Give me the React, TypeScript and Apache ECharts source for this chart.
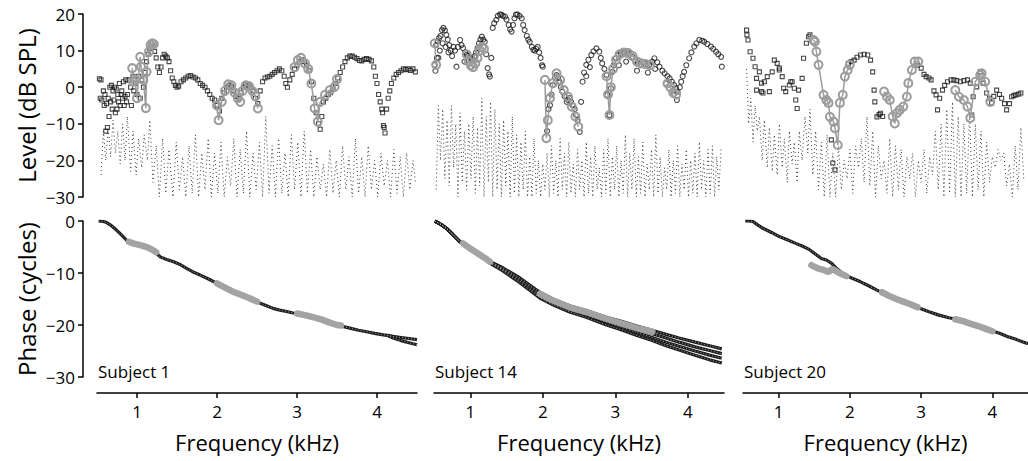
import React, { useEffect, useRef } from "react";
import * as echarts from "echarts";

// ---------- tick labels ----------
const xTickValues = [1, 2, 3, 4];
const subjects = ["Subject 1", "Subject 14", "Subject 20"];

// ---------- Subject 1 : level (dB SPL) ----------
const s1Level: number[][] = [
  [0.53, 2.3], [0.54, -3], [0.55, 2], [0.56, -3.5], [0.58, -1], [0.59, -5], [0.6, -2], [0.61, -12], [0.62, -4.5],
  [0.63, -11], [0.64, -3], [0.65, -8], [0.66, 0], [0.67, -4], [0.68, 0.5], [0.69, -6], [0.7, -1], [0.71, -3.5],
  [0.72, 0], [0.73, -7], [0.74, -0.5], [0.75, -6], [0.76, -2], [0.77, -4], [0.78, 1], [0.79, -5], [0.8, -2],
  [0.81, -1], [0.82, -3], [0.83, 1.5], [0.84, -5], [0.85, -2.5], [0.86, 2], [0.87, -4], [0.88, -2], [0.9, 2],
  [0.92, 0], [0.93, -5], [0.95, 3], [0.96, -1], [0.98, 1], [1.0, -2], [1.02, 3], [1.04, -3], [1.06, 2], [1.08, 0],
  [1.1, 4], [1.12, 7], [1.14, 9], [1.16, 10.5], [1.18, 11], [1.22, 9.8], [1.24, 8], [1.26, 5.5], [1.28, 4],
  [1.3, 5.5], [1.32, 8], [1.34, 9], [1.36, 8.5], [1.38, 8], [1.4, 7], [1.42, 4.5], [1.44, 2.5], [1.46, 1.5],
  [1.48, 0.5], [1.5, 0], [1.52, 0.3], [1.55, 1.5], [1.58, 2], [1.61, 2.5], [1.64, 3], [1.67, 3.2], [1.7, 2.8],
  [1.73, 2.5], [1.76, 2], [1.79, 1], [1.82, 0.5], [1.85, 0], [1.88, -1], [1.91, -2], [1.94, -3], [1.97, -3.5],
  [2.0, -5], [2.03, -6.5], [2.06, -3], [2.09, -1.5], [2.12, 0], [2.15, 0.5], [2.18, 0.2], [2.21, -1], [2.24, -2.5],
  [2.27, -3], [2.3, -1.5], [2.33, 0], [2.36, 0.8], [2.39, 0.5], [2.42, 0], [2.45, -1], [2.48, -3], [2.51, -4.5],
  [2.54, -1], [2.57, 1.5], [2.6, 2.5], [2.63, 2.8], [2.66, 3], [2.69, 3.5], [2.72, 4], [2.75, 4.5], [2.78, 5],
  [2.81, 4.5], [2.84, 3], [2.86, 1], [2.88, 0], [2.91, 2], [2.94, 3.5], [2.97, 5], [3.0, 6], [3.03, 7], [3.06, 7.5],
  [3.09, 7], [3.12, 6], [3.15, 4.5], [3.18, 1.5], [3.21, -3], [3.24, -7], [3.27, -10], [3.29, -11.5], [3.31, -8],
  [3.33, -4], [3.36, -3], [3.39, -2], [3.42, -1.5], [3.45, -0.5], [3.48, 1], [3.51, 2.5], [3.54, 4], [3.57, 5.5],
  [3.6, 7], [3.63, 8], [3.66, 8.5], [3.69, 8.5], [3.72, 8.2], [3.75, 7.8], [3.78, 7.3], [3.81, 7.2], [3.84, 7.6],
  [3.87, 7.8], [3.9, 7.6], [3.93, 7.2], [3.96, 5.5], [3.98, 3], [4.0, 1], [4.02, -2], [4.04, -4], [4.06, -6],
  [4.07, -7], [4.08, -10.5], [4.09, -11], [4.1, -12.5], [4.12, -6], [4.14, -3], [4.16, -1], [4.18, 1], [4.21, 2.5],
  [4.24, 3.5], [4.27, 4], [4.3, 4.5], [4.33, 5], [4.36, 4.8], [4.39, 5], [4.42, 4.6], [4.45, 5], [4.48, 4.2],
];
const s1GrayA: number[][] = [
  [0.94, 5.2], [0.95, 1.5], [0.975, 2], [1.0, -3], [1.04, 8.3], [1.05, 5.6], [1.08, 2], [1.11, -5.7],
  [1.12, 4.2], [1.15, 9.7], [1.17, 11.5], [1.19, 12], [1.21, 11.8],
];
const s1GrayB: number[][] = [
  [2.0, -5], [2.02, -9], [2.06, -4], [2.1, -1], [2.14, 0.8], [2.18, 0.5], [2.22, -1.5], [2.26, -3], [2.29, -4],
  [2.32, -1], [2.36, 0.5], [2.4, 0.3], [2.44, -1], [2.48, -2.5], [2.51, -5.8],
];
const s1GrayC: number[][] = [
  [2.97, 5.5], [3.01, 7.4], [3.05, 8], [3.1, 6.5], [3.14, 5], [3.18, 1], [3.22, -5.8], [3.26, -9.4], [3.29, -4],
  [3.35, -2.1], [3.41, -0.8], [3.47, 0.1], [3.5, 2.2],
];
const s1Noise: number[][] = [
  [0.55, -24], [0.58, -12], [0.61, -20], [0.64, -11], [0.67, -19], [0.7, -9], [0.73, -18], [0.76, -12], [0.79, -21],
  [0.82, -10], [0.85, -20], [0.88, -8], [0.92, -23], [0.95, -12], [0.99, -24], [1.02, -14], [1.06, -22], [1.09, -13],
  [1.13, -20], [1.16, -9], [1.2, -26], [1.24, -16], [1.28, -30], [1.32, -14], [1.36, -29], [1.4, -17], [1.45, -30],
  [1.49, -15], [1.53, -28], [1.57, -19], [1.61, -30], [1.65, -16], [1.69, -29], [1.73, -13], [1.77, -30], [1.81, -18],
  [1.85, -28], [1.89, -14], [1.93, -30], [1.97, -18], [2.01, -29], [2.05, -15], [2.09, -30], [2.13, -19], [2.17, -27],
  [2.21, -14], [2.25, -30], [2.29, -17], [2.33, -29], [2.37, -12], [2.41, -30], [2.45, -18], [2.49, -28], [2.53, -15],
  [2.57, -30], [2.61, -8], [2.65, -29], [2.69, -16], [2.73, -30], [2.77, -14], [2.81, -29], [2.85, -18], [2.89, -30],
  [2.93, -13], [2.97, -28], [3.01, -15], [3.05, -30], [3.09, -12], [3.13, -29], [3.17, -17], [3.21, -30], [3.25, -19],
  [3.29, -28], [3.33, -21], [3.37, -30], [3.41, -17], [3.45, -29], [3.49, -20], [3.53, -30], [3.57, -16], [3.61, -28],
  [3.65, -19], [3.69, -30], [3.73, -14], [3.77, -29], [3.81, -19], [3.85, -30], [3.89, -16], [3.93, -28], [3.97, -20],
  [4.01, -30], [4.05, -18], [4.09, -27], [4.13, -20], [4.17, -30], [4.21, -17], [4.25, -29], [4.29, -19], [4.33, -30],
  [4.37, -18], [4.41, -28], [4.45, -20], [4.48, -26],
];

// ---------- Subject 14 : level ----------
const s14Level: number[][] = [
  [0.51, 6.1], [0.52, 4.5], [0.53, 11.5], [0.55, 12.5], [0.56, 8], [0.57, 13.4], [0.59, 14], [0.61, 15.6], [0.63, 16.2],
  [0.65, 15.5], [0.67, 14.3], [0.69, 13], [0.71, 11.5], [0.73, 10], [0.75, 8.5], [0.77, 11], [0.79, 10], [0.81, 5.6],
  [0.83, 11], [0.86, 12.9], [0.88, 11.5], [0.9, 10.7], [0.93, 9.5], [0.95, 8.8], [0.97, 8.5], [1.0, 8], [1.02, 7.4],
  [1.04, 7.4], [1.06, 8.5], [1.08, 9.5], [1.1, 10.7], [1.12, 12], [1.14, 13], [1.16, 13.8], [1.18, 13], [1.2, 12.4],
  [1.22, 9], [1.24, 5.2], [1.26, 3.5], [1.27, 2.9], [1.29, 8], [1.31, 16.2], [1.33, 17.5], [1.36, 18.4], [1.38, 19.5],
  [1.41, 19.9], [1.43, 19.8], [1.45, 19.5], [1.48, 19.3], [1.5, 18.5], [1.53, 17], [1.55, 15.8], [1.57, 15.2],
  [1.59, 17], [1.61, 18.8], [1.63, 19.8], [1.65, 19.9], [1.68, 19.5], [1.71, 18.8], [1.73, 17], [1.75, 15.6], [1.78, 14],
  [1.8, 13], [1.82, 12.4], [1.85, 11], [1.87, 10.2], [1.89, 10], [1.91, 10.5], [1.93, 11], [1.95, 9.5], [1.97, 8],
  [1.99, 6], [2.0, 5.6], [2.06, -12], [2.08, -6], [2.1, -4.9], [2.12, -2], [2.14, 0.6], [2.17, 2.5], [2.19, 3.3],
  [2.21, 2.5], [2.23, 1.5], [2.25, 0], [2.27, -1.2], [2.3, -2.5], [2.33, -4], [2.35, -3.5], [2.37, -3], [2.39, -4],
  [2.41, -4.9], [2.44, -6], [2.46, -7.6], [2.48, -9], [2.51, -12.2], [2.53, -4], [2.55, 1.5], [2.57, 4], [2.6, 6.1],
  [2.63, 7.5], [2.67, 8.8], [2.7, 9.8], [2.74, 10.6], [2.78, 9.7], [2.8, 8], [2.82, 6.5], [2.85, 5], [2.88, 3.3],
  [2.89, -2.1], [2.92, -7.6], [2.94, -0.3], [2.96, 4.2], [2.98, 6], [3.01, 7.9], [3.04, 8.7], [3.08, 9.3], [3.12, 9.5],
  [3.17, 9.7], [3.2, 9], [3.24, 8.3], [3.28, 7.3], [3.31, 6.5], [3.35, 6.3], [3.4, 6.5], [3.44, 6.3], [3.47, 6.1],
  [3.51, 7], [3.54, 7.9], [3.58, 6.8], [3.61, 5.6], [3.65, 4.5], [3.68, 3.8], [3.72, 3], [3.75, 2.4], [3.78, 1.5],
  [3.81, 0.6], [3.84, -0.3], [3.86, -1.2], [3.89, 0], [3.91, 1.5], [3.93, 3], [3.95, 4.2], [3.98, 6], [4.02, 7.9],
  [4.05, 9.5], [4.09, 11.1], [4.12, 12], [4.16, 12.9], [4.2, 12.7], [4.23, 12.4], [4.27, 11.8], [4.32, 11.1],
  [4.35, 10.5], [4.39, 9.7], [4.42, 9], [4.46, 8.3], [4.47, 5.6],
];
const s14LevelB: number[][] = [
  [0.54, 8], [0.58, 10], [0.62, 12], [0.66, 11], [0.7, 9.5], [0.92, 7], [1.0, 5.5], [2.6, 3], [2.65, 5.5],
  [3.05, 6], [3.15, 7], [3.3, 4.5], [3.45, 4], [3.55, 5], [3.7, 1], [3.8, -2], [3.85, -3.5],
];
const s14GrayA: number[][] = [[0.51, 12], [0.53, 6.1]];
const s14GrayB: number[][] = [
  [0.95, 9], [0.98, 7], [1.01, 6], [1.04, 5.5], [1.07, 6.5], [1.1, 8], [1.13, 10], [1.16, 11], [1.19, 10.5],
];
const s14GrayC: number[][] = [
  [2.03, 2], [2.05, -13.9], [2.07, -9], [2.1, -3], [2.14, 1.1], [2.19, 3.8], [2.24, 2], [2.29, -0.8], [2.35, -2.6],
  [2.4, -5.3], [2.45, -8], [2.49, -10.8],
];
const s14GrayD: number[][] = [
  [2.88, 3], [2.9, -2], [2.92, -7.6], [2.94, 0], [2.97, 5], [3.01, 7.5], [3.06, 9], [3.12, 9.5], [3.18, 9.3],
  [3.24, 8.5], [3.3, 7], [3.36, 6.5], [3.42, 6.3], [3.48, 6],
];
const s14GrayE: number[][] = [[3.72, 1], [3.76, 0], [3.8, -1.5], [3.84, -2]];
const s14Noise: number[][] = [
  [0.53, -28], [0.56, -5], [0.59, -20], [0.62, -6], [0.65, -25], [0.68, -9], [0.71, -27], [0.74, -5], [0.77, -22],
  [0.8, -10], [0.83, -30], [0.86, -7], [0.89, -26], [0.92, -12], [0.95, -28], [0.98, -10], [1.01, -25], [1.04, -8],
  [1.07, -29], [1.1, -11], [1.13, -27], [1.16, -3], [1.19, -30], [1.22, -8], [1.25, -26], [1.28, -4], [1.31, -30],
  [1.34, -6], [1.37, -28], [1.4, -10], [1.43, -30], [1.46, -9], [1.49, -27], [1.52, -12], [1.55, -30], [1.58, -8],
  [1.61, -29], [1.64, -13], [1.67, -30], [1.7, -15], [1.73, -28], [1.76, -12], [1.79, -30], [1.82, -19], [1.85, -30],
  [1.88, -14], [1.91, -29], [1.94, -20], [1.97, -30], [2.0, -21], [2.03, -28], [2.06, -18], [2.09, -30], [2.12, -16],
  [2.15, -29], [2.18, -20], [2.21, -30], [2.24, -14], [2.27, -28], [2.3, -18], [2.33, -30], [2.36, -15], [2.39, -29],
  [2.42, -21], [2.45, -30], [2.48, -17], [2.51, -28], [2.54, -20], [2.57, -30], [2.6, -15], [2.63, -29], [2.66, -19],
  [2.69, -30], [2.72, -16], [2.75, -28], [2.78, -22], [2.81, -30], [2.84, -17], [2.87, -29], [2.9, -14], [2.93, -30],
  [2.96, -19], [2.99, -28], [3.02, -16], [3.05, -30], [3.08, -20], [3.11, -29], [3.14, -13], [3.17, -30], [3.2, -18],
  [3.23, -28], [3.26, -14], [3.29, -30], [3.32, -19], [3.35, -29], [3.38, -15], [3.41, -30], [3.44, -21], [3.47, -28],
  [3.5, -17], [3.53, -30], [3.56, -13], [3.59, -29], [3.62, -19], [3.65, -30], [3.68, -22], [3.71, -28], [3.74, -17],
  [3.77, -30], [3.8, -20], [3.83, -29], [3.86, -16], [3.89, -30], [3.92, -21], [3.95, -28], [3.98, -17], [4.01, -30],
  [4.04, -20], [4.07, -29], [4.1, -18], [4.13, -30], [4.16, -15], [4.19, -28], [4.22, -20], [4.25, -30], [4.28, -17],
  [4.31, -29], [4.34, -16], [4.37, -30], [4.4, -19], [4.43, -28], [4.46, -17],
];

// ---------- Subject 20 : level ----------
const s20Level: number[][] = [
  [0.55, 15.6], [0.555, 14.3], [0.57, 12.9], [0.6, 9.7], [0.64, 7.9], [0.67, 5.6], [0.69, 2.4], [0.69, -0.8],
  [0.73, 4.2], [0.76, 1.1], [0.76, -1.2], [0.78, -1.6], [0.8, 1.5], [0.84, 2.9], [0.87, -1.2], [0.91, 4.2], [0.94, 7.4],
  [0.98, 6.5], [1.01, 5.2], [1.01, 4.7], [1.05, 2.9], [1.07, -0.3], [1.1, -1.2], [1.15, 0.6], [1.17, 1.5], [1.19, 1.5],
  [1.22, -0.3], [1.24, -3.5], [1.26, -5.8], [1.28, -0.8], [1.33, 2.4], [1.35, 7.9], [1.39, 12], [1.42, 13.8],
  [1.44, 14.3], [1.74, -14.4], [1.76, -20.7], [1.79, -22.6], [1.98, 6.5], [2.02, 7], [2.06, 7.4], [2.1, 8.2],
  [2.15, 8.8], [2.2, 9], [2.25, 8.8], [2.29, 7.4], [2.32, 4.2], [2.34, -0.8], [2.35, -4], [2.38, -8.1], [2.41, -7.5],
  [2.43, -7.1], [2.46, -8], [2.95, 6], [3.0, 5.2], [3.04, 3.5], [3.07, 2.9], [3.11, 2.5], [3.14, 2], [3.18, -1],
  [3.21, -2.1], [3.23, -6.2], [3.26, -3], [3.3, -0.8], [3.33, 0.5], [3.37, 1.5], [3.42, 2], [3.46, 2], [3.5, 1.8],
  [3.55, 1.5], [3.6, 1.8], [3.65, 2], [3.69, 1.1], [3.71, -7.6], [3.73, -2.6], [3.78, 0.1], [3.83, 4.2], [3.87, 1.1],
  [3.92, -1.6], [3.96, -3], [3.99, -4.3], [4.02, -2.5], [4.06, -0.8], [4.1, -2], [4.13, -3], [4.17, -4.5], [4.2, -6.2],
  [4.24, -4.5], [4.27, -2.6], [4.3, -2.3], [4.33, -2.1], [4.37, -1.9], [4.4, -1.6],
];
const s20GrayA: number[][] = [
  [1.49, 12.9], [1.51, 12.4], [1.53, 9.7], [1.56, 6.1], [1.63, -2.1], [1.67, -3.5], [1.7, -4.3], [1.72, -8.1],
  [1.77, -9.4], [1.79, -11.2], [1.83, -15.8], [1.86, -4.3], [1.9, -2.1], [1.93, 2.9], [1.97, 4.7], [2.0, 6.1],
];
const s20GrayB: number[][] = [
  [2.48, -1.2], [2.52, -2.6], [2.56, -3.5], [2.6, -8], [2.63, -9.9], [2.66, -7.1], [2.7, -6.2], [2.75, -5.3],
  [2.8, -2.6], [2.82, 1.1], [2.87, 4.7], [2.91, 7], [2.96, 7],
];
const s20GrayC: number[][] = [
  [3.48, -0.8], [3.53, -2.6], [3.6, -3.5], [3.65, -5.3], [3.69, -8.4], [3.76, 1.5], [3.83, 3.3], [3.85, 3.8],
  [3.9, 1.5], [3.97, -4],
];
const s20Noise: number[][] = [
  [0.55, 5], [0.58, -10], [0.61, -3], [0.64, -15], [0.67, -5], [0.7, -12], [0.73, -8], [0.77, -20], [0.8, -9],
  [0.84, -22], [0.87, -11], [0.91, -23], [0.94, -13], [0.98, -24], [1.01, -10], [1.05, -22], [1.08, -14], [1.12, -26],
  [1.15, -12], [1.19, -21], [1.22, -15], [1.26, -26], [1.29, -12], [1.33, -20], [1.37, -8], [1.41, -18], [1.44, -6],
  [1.48, -24], [1.52, -12], [1.56, -28], [1.6, -15], [1.64, -30], [1.68, -13], [1.72, -30], [1.76, -18], [1.8, -30],
  [1.84, -16], [1.88, -28], [1.92, -20], [1.96, -25], [2.0, -17], [2.04, -29], [2.08, -16], [2.12, -22], [2.16, -14],
  [2.2, -26], [2.24, -8], [2.28, -27], [2.32, -12], [2.36, -30], [2.4, -16], [2.44, -25], [2.48, -20], [2.52, -29],
  [2.56, -14], [2.6, -30], [2.64, -16], [2.68, -28], [2.72, -17], [2.76, -30], [2.8, -19], [2.84, -25], [2.88, -18],
  [2.92, -30], [2.96, -20], [3.0, -26], [3.04, -17], [3.08, -29], [3.12, -19], [3.16, -24], [3.2, -12], [3.24, -28],
  [3.28, -10], [3.32, -30], [3.36, -6], [3.4, -29], [3.44, -4], [3.48, -30], [3.52, -8], [3.56, -30], [3.6, -10],
  [3.64, -29], [3.68, -7], [3.72, -30], [3.76, -10], [3.8, -28], [3.84, -12], [3.88, -30], [3.92, -15], [3.96, -26],
  [4.0, -19], [4.04, -22], [4.08, -17], [4.12, -20], [4.16, -18], [4.2, -27], [4.24, -21], [4.28, -30], [4.32, -16],
  [4.36, -28], [4.4, -11], [4.44, -25],
];

// ---------- Phase (cycles) ----------
const s1Phase: number[][] = [
  [0.52, 0], [0.58, -0.1], [0.62, -0.3], [0.68, -0.9], [0.72, -1.4], [0.78, -2.3], [0.82, -2.9], [0.87, -3.7],
  [0.95, -4.3], [1.02, -4.6], [1.08, -4.8], [1.14, -5.1], [1.2, -5.6], [1.25, -6.3], [1.29, -6.9], [1.37, -7.4],
  [1.45, -7.8], [1.53, -8.3], [1.62, -9.1], [1.7, -9.8], [1.79, -10.4], [1.9, -11.2], [2.0, -12], [2.1, -12.8],
  [2.2, -13.6], [2.3, -14.2], [2.41, -14.8], [2.54, -15.8], [2.62, -16.3], [2.7, -16.8], [2.8, -17.2], [2.87, -17.4],
  [2.95, -17.7], [3.04, -17.9], [3.15, -18.3], [3.25, -18.7], [3.35, -19.2], [3.45, -19.8], [3.55, -20.2],
  [3.66, -20.6], [3.77, -21.0], [3.87, -21.3], [3.97, -21.6], [4.08, -21.9], [4.13, -22.0], [4.2, -22.2],
  [4.3, -22.4], [4.4, -22.6], [4.5, -22.8],
];
const s1PhaseLow: number[][] = [[4.13, -22.0], [4.2, -22.5], [4.3, -23.0], [4.4, -23.4], [4.5, -23.8]];
const s1PhaseGrayA: number[][] = [
  [0.9, -4.0], [0.95, -4.3], [1.0, -4.5], [1.05, -4.7], [1.1, -4.9], [1.15, -5.2], [1.2, -5.6], [1.24, -6.0],
];
const s1PhaseGrayB: number[][] = [[2.0, -12], [2.1, -12.8], [2.2, -13.6], [2.3, -14.2], [2.4, -14.8], [2.5, -15.5]];
const s1PhaseGrayC: number[][] = [
  [3.0, -17.8], [3.1, -18.1], [3.2, -18.5], [3.3, -18.9], [3.4, -19.5], [3.5, -20.0], [3.55, -20.1],
];

const s14Freq = [0.51, 0.6, 0.67, 0.76, 0.86, 1.0, 1.13, 1.27, 1.45, 1.68, 1.96, 2.14, 2.37, 2.6, 2.88, 3.06, 3.3, 3.51, 3.7, 3.88, 4.1, 4.3, 4.47];
const s14PhaseA = [0, -0.7, -1.4, -2.6, -4, -5.3, -6.5, -7.8, -9.0, -10.9, -13.7, -15.0, -16.3, -17.2, -18.5, -19.2, -20.2, -21.0, -21.8, -22.5, -23.3, -24.0, -24.6];
const s14PhaseB = [0, -0.7, -1.4, -2.6, -4, -5.3, -6.5, -7.9, -9.2, -11.2, -14.0, -15.3, -16.7, -17.6, -19.0, -19.7, -20.8, -21.7, -22.5, -23.3, -24.2, -24.9, -25.5];
const s14PhaseC = [0, -0.7, -1.4, -2.6, -4, -5.3, -6.5, -8.0, -9.4, -11.5, -14.4, -15.7, -17.1, -18.1, -19.5, -20.3, -21.5, -22.4, -23.3, -24.1, -25.0, -25.8, -26.4];
const s14PhaseD = [0, -0.7, -1.4, -2.6, -4, -5.3, -6.5, -8.1, -9.6, -11.8, -14.8, -16.1, -17.5, -18.5, -20.0, -20.8, -22.0, -23.0, -24.0, -24.8, -25.8, -26.7, -27.3];
const s14PhaseGrayA: number[][] = [[0.9, -4.3], [1.0, -5.3], [1.1, -6.2], [1.2, -7.1], [1.27, -7.8]];
const s14PhaseGrayB: number[][] = [
  [1.96, -14.0], [2.14, -15.3], [2.37, -16.6], [2.6, -17.5], [2.88, -18.8], [3.06, -19.6], [3.3, -20.6], [3.51, -21.3],
];

const s20Phase: number[][] = [
  [0.53, 0], [0.58, 0], [0.64, -0.1], [0.7, -0.7], [0.78, -1.4], [0.9, -2.2], [1.01, -3], [1.12, -3.6], [1.24, -4.3],
  [1.33, -4.8], [1.42, -5.4], [1.5, -6.2], [1.6, -7.2], [1.67, -7.5], [1.74, -8.1], [1.82, -9.2], [1.9, -10.1],
  [2.0, -10.8], [2.15, -11.7], [2.27, -12.5], [2.38, -13.3], [2.52, -14.2], [2.64, -14.9], [2.75, -15.5],
  [2.87, -16.1], [2.98, -16.8], [3.1, -17.4], [3.25, -18.1], [3.39, -18.6], [3.53, -19.0], [3.65, -19.5],
  [3.76, -20.0], [3.88, -20.5], [3.99, -21.1], [4.1, -21.6], [4.21, -22.2], [4.32, -22.7], [4.42, -23.2], [4.5, -23.6],
];
const s20PhaseGrayA: number[][] = [
  [1.46, -8.5], [1.5, -8.8], [1.55, -9.1], [1.6, -9.3], [1.65, -9.5], [1.7, -9.8], [1.75, -9.2], [1.8, -9.6],
  [1.85, -10], [1.9, -10.3], [1.95, -10.6],
];
const s20PhaseGrayB: number[][] = [[2.45, -13.7], [2.55, -14.4], [2.65, -15.0], [2.75, -15.5], [2.85, -16.0], [2.95, -16.6]];
const s20PhaseGrayC: number[][] = [[3.48, -18.9], [3.6, -19.3], [3.7, -19.8], [3.8, -20.2], [3.9, -20.7], [4.0, -21.2]];

const FONT = '"Open Sans", "Noto Sans", sans-serif';
const minus = (v: number) => (v < 0 ? "\u2212" + Math.abs(v) : String(v));

const zip = (xs: number[], ys: number[]) => xs.map((x, i) => [x, ys[i]]);

function markers(data: number[][], gi: number, shape = "rect", size = 4) {
  return {
    type: "scatter", xAxisIndex: gi, yAxisIndex: gi, data, symbol: shape, symbolSize: size, silent: true,
    itemStyle: { color: "rgba(0,0,0,0)", borderColor: "#1a1a1a", borderWidth: 1.1 }, z: 3,
  };
}
function grayLevel(data: number[][], gi: number) {
  return {
    type: "line", xAxisIndex: gi, yAxisIndex: gi, data, symbol: "circle", symbolSize: 8, silent: true,
    lineStyle: { color: "#9c9c9c", width: 1.5 },
    itemStyle: { color: "rgba(0,0,0,0)", borderColor: "#9c9c9c", borderWidth: 2 }, z: 4,
  };
}
function noise(data: number[][], gi: number) {
  return {
    type: "line", xAxisIndex: gi, yAxisIndex: gi, data, symbol: "none", silent: true,
    lineStyle: { color: "#3a3a3a", width: 1, type: [1, 3] }, z: 2,
  };
}
function phaseLine(data: number[][], gi: number) {
  return [
    {
      type: "line", xAxisIndex: gi, yAxisIndex: gi, data, symbol: "none", silent: true,
      lineStyle: { color: "#1c1c1c", width: 3.2 }, z: 3,
    },
    {
      type: "line", xAxisIndex: gi, yAxisIndex: gi, data, symbol: "none", silent: true,
      lineStyle: { color: "#aaaaaa", width: 1, type: [1, 2] }, z: 4,
    },
  ];
}
function phaseGray(data: number[][], gi: number) {
  return {
    type: "line", xAxisIndex: gi, yAxisIndex: gi, data, symbol: "none", silent: true,
    lineStyle: { color: "#a3a3a3", width: 6.5, cap: "round" }, z: 5,
  };
}

const cols = [
  { left: 97, width: 320 },
  { left: 434, width: 290 },
  { left: 743, width: 290 },
];

function buildOption() {
  const grid: any[] = [];
  const xAxis: any[] = [];
  const yAxis: any[] = [];
  for (let r = 0; r < 2; r++) {
    for (let c = 0; c < 3; c++) {
      const top = r === 0 ? 14 : 221;
      const height = r === 0 ? 183 : 156;
      grid.push({ left: cols[c].left, width: cols[c].width, top, height, containLabel: false });
      const gi = r * 3 + c;
      const showX = r === 1;
      xAxis.push({
        type: "value", gridIndex: gi, min: 0.5, max: 4.5, show: showX, offset: 16,
        name: showX ? "Frequency (kHz)" : "", nameLocation: "middle", nameGap: 38,
        nameTextStyle: { fontFamily: FONT, fontSize: 22, color: "#000" },
        axisLine: { show: true, onZero: false, lineStyle: { color: "#000", width: 1.5 } },
        axisTick: { show: true, length: 5, customValues: xTickValues, lineStyle: { color: "#000", width: 1.5 } },
        axisLabel: { show: true, customValues: xTickValues, margin: 10, fontFamily: FONT, fontSize: 17, color: "#000" },
        splitLine: { show: false },
      });
      const showY = c === 0;
      yAxis.push({
        type: "value", gridIndex: gi, min: -30, max: r === 0 ? 20 : 0, interval: 10, show: showY, offset: 14,
        name: showY ? (r === 0 ? "Level (dB SPL)" : "Phase (cycles)") : "",
        nameLocation: "middle", nameRotate: 90, nameGap: 45,
        nameTextStyle: { fontFamily: FONT, fontSize: 24, color: "#000" },
        axisLine: { show: true, onZero: false, lineStyle: { color: "#000", width: 1.5 } },
        axisTick: { show: true, length: 5, lineStyle: { color: "#000", width: 1.5 } },
        axisLabel: { show: true, margin: 8, fontFamily: FONT, fontSize: 17, color: "#000", formatter: minus },
        splitLine: { show: false },
      });
    }
  }

  const series: any[] = [
    noise(s1Noise, 0), markers(s1Level, 0), grayLevel(s1GrayA, 0), grayLevel(s1GrayB, 0), grayLevel(s1GrayC, 0),
    noise(s14Noise, 1), markers(s14Level, 1, "circle", 5), markers(s14LevelB, 1, "circle", 5), grayLevel(s14GrayA, 1),
    grayLevel(s14GrayB, 1), grayLevel(s14GrayC, 1), grayLevel(s14GrayD, 1), grayLevel(s14GrayE, 1),
    noise(s20Noise, 2), markers(s20Level, 2), grayLevel(s20GrayA, 2), grayLevel(s20GrayB, 2), grayLevel(s20GrayC, 2),
    ...phaseLine(s1Phase, 3), ...phaseLine(s1PhaseLow, 3),
    phaseGray(s1PhaseGrayA, 3), phaseGray(s1PhaseGrayB, 3), phaseGray(s1PhaseGrayC, 3),
    ...phaseLine(zip(s14Freq, s14PhaseA), 4), ...phaseLine(zip(s14Freq, s14PhaseB), 4),
    ...phaseLine(zip(s14Freq, s14PhaseC), 4), ...phaseLine(zip(s14Freq, s14PhaseD), 4),
    phaseGray(s14PhaseGrayA, 4), phaseGray(s14PhaseGrayB, 4),
    ...phaseLine(s20Phase, 5),
    phaseGray(s20PhaseGrayA, 5), phaseGray(s20PhaseGrayB, 5), phaseGray(s20PhaseGrayC, 5),
  ];

  const graphic = subjects.map((s, i) => ({
    type: "text", left: cols[i].left + 1, top: 363,
    style: { text: s, fontFamily: FONT, fontSize: 17, fill: "#000" },
  }));

  return { animation: false, backgroundColor: "#fff", grid, xAxis, yAxis, series, graphic };
}

export default function App() {
  const ref = useRef<HTMLDivElement>(null);
  useEffect(() => {
    if (!ref.current) return;
    const chart = echarts.init(ref.current, null, { renderer: "svg" });
    chart.setOption(buildOption() as any);
    return () => chart.dispose();
  }, []);
  return <div ref={ref} style={{ position: "fixed", left: 0, top: 0, width: 1028, height: 461 }} />;
}
